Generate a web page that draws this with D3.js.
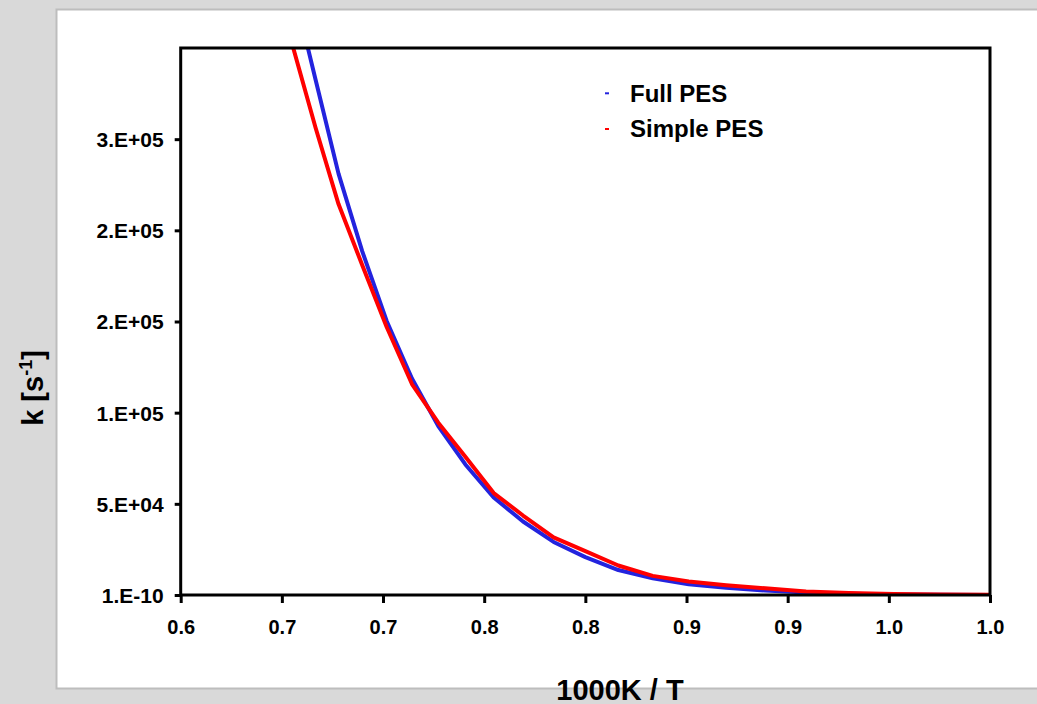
<!DOCTYPE html>
<html>
<head>
<meta charset="utf-8">
<script src="https://cdn.jsdelivr.net/npm/d3@7"></script>
<style>
  html, body { margin: 0; padding: 0; background: #d9d9d9; }
  svg { display: block; }
  text { font-family: "Liberation Sans", Arial, Helvetica, sans-serif; font-weight: bold; fill: #000; }
</style>
</head>
<body>
<svg id="chart" width="1037" height="704"></svg>
<script>
// Inverse temperature (1000K / T), T = 1550 K ... 1000 K in 25 K steps
const invT = [0.6452, 0.6557, 0.6667, 0.6780, 0.6897, 0.7018, 0.7143, 0.7273, 0.7407, 0.7547,
              0.7692, 0.7843, 0.8000, 0.8163, 0.8333, 0.8511, 0.8696, 0.8889, 0.9091, 0.9302,
              0.9524, 0.9756, 1.0000];

// Rate constants k [1/s]
const kFull = [390500, 332900, 282400, 231100, 188600, 150300, 118700, 92700, 71600, 53500,
               40300, 29100, 20800, 13700, 9160, 5870, 3950, 2470, 1370, 660,
               330, 150, 50];
const kSimple = [344400, 299700, 256100, 214400, 181000, 147000, 115700, 94500, 75800, 55900,
                 43600, 31600, 24100, 16200, 10500, 7400, 5370, 3670, 1970, 1100,
                 550, 300, 150];

const seriesNames = ["Full PES", "Simple PES"];
const seriesColors = ["#2323de", "#ff0000"];

const xTickValues = [0.6, 0.65, 0.7, 0.75, 0.8, 0.85, 0.9, 0.95, 1.0];
const xTickLabels = ["0.6", "0.7", "0.7", "0.8", "0.8", "0.9", "0.9", "1.0", "1.0"];
const yTickValues = [1e-10, 5e4, 1e5, 1.5e5, 2e5, 2.5e5];
const yTickLabels = ["1.E-10", "5.E+04", "1.E+05", "2.E+05", "2.E+05", "3.E+05"];

const svg = d3.select("#chart");

// Outer white panel
svg.append("rect")
  .attr("x", 56.5).attr("y", 9.5)
  .attr("width", 1000).attr("height", 679)
  .attr("fill", "#ffffff")
  .attr("stroke", "#bdbdbd").attr("stroke-width", 2);

const plot = { left: 180.7, right: 990, top: 48, bottom: 595 };

const x = d3.scaleLinear().domain([0.6, 1.0]).range([plot.left, plot.right]);
const y = d3.scaleLinear().domain([0, 3e5]).range([plot.bottom, plot.top]);

svg.append("defs").append("clipPath").attr("id", "plot-clip")
  .append("rect")
  .attr("x", plot.left).attr("y", plot.top)
  .attr("width", plot.right - plot.left).attr("height", plot.bottom - plot.top);

// X axis
svg.append("g")
  .attr("transform", `translate(0,${plot.bottom})`)
  .call(d3.axisBottom(x)
    .tickValues(xTickValues)
    .tickFormat((d, i) => xTickLabels[i])
    .tickSizeInner(8).tickSizeOuter(0))
  .call(g => g.select(".domain").remove())
  .call(g => g.selectAll(".tick line").attr("stroke", "#000").attr("stroke-width", 3))
  .call(g => g.selectAll(".tick text")
    .attr("y", 39).attr("dy", null)
    .attr("font-size", 20).attr("fill", "#000")
    .style("font-family", "'Liberation Sans', Arial, sans-serif").style("font-weight", "bold"));

// Y axis
svg.append("g")
  .attr("transform", `translate(${plot.left},0)`)
  .call(d3.axisLeft(y)
    .tickValues(yTickValues)
    .tickFormat((d, i) => yTickLabels[i])
    .tickSizeInner(6).tickSizeOuter(0))
  .call(g => g.select(".domain").remove())
  .call(g => g.selectAll(".tick line").attr("stroke", "#000").attr("stroke-width", 3))
  .call(g => g.selectAll(".tick text")
    .attr("x", -17).attr("dy", "0.35em")
    .attr("font-size", 21).attr("fill", "#000")
    .style("font-family", "'Liberation Sans', Arial, sans-serif").style("font-weight", "bold"));

// Curves
const line = d3.line()
  .x(d => x(d[0]))
  .y(d => y(d[1]));

const series = [kFull, kSimple];
const curves = svg.append("g").attr("clip-path", "url(#plot-clip)");
series.forEach((vals, i) => {
  curves.append("path")
    .datum(invT.map((t, j) => [t, vals[j]]))
    .attr("fill", "none")
    .attr("stroke", seriesColors[i])
    .attr("stroke-width", 4)
    .attr("stroke-linejoin", "round")
    .attr("d", line);
});

// Plot frame
svg.append("rect")
  .attr("x", plot.left).attr("y", plot.top)
  .attr("width", plot.right - plot.left).attr("height", plot.bottom - plot.top)
  .attr("fill", "none").attr("stroke", "#000").attr("stroke-width", 3);

// Legend
const legendRows = [{ markY: 93.3, textY: 101.7 }, { markY: 129, textY: 136.7 }];
seriesNames.forEach((name, i) => {
  svg.append("line")
    .attr("x1", 605).attr("x2", 609)
    .attr("y1", legendRows[i].markY).attr("y2", legendRows[i].markY)
    .attr("stroke", seriesColors[i]).attr("stroke-width", 2);
  svg.append("text")
    .attr("x", 630).attr("y", legendRows[i].textY)
    .attr("font-size", 24)
    .text(name);
});

// Axis titles
svg.append("text")
  .attr("x", 620).attr("y", 700)
  .attr("text-anchor", "middle")
  .attr("font-size", 29)
  .text("1000K / T");

const yTitle = svg.append("text")
  .attr("transform", "translate(43,388) rotate(-90)")
  .attr("text-anchor", "middle")
  .attr("font-size", 29);
yTitle.append("tspan").text("k [s");
yTitle.append("tspan").attr("dy", -11).attr("font-size", 18).text("-1");
yTitle.append("tspan").attr("dy", 11).text("]");
</script>
</body>
</html>
